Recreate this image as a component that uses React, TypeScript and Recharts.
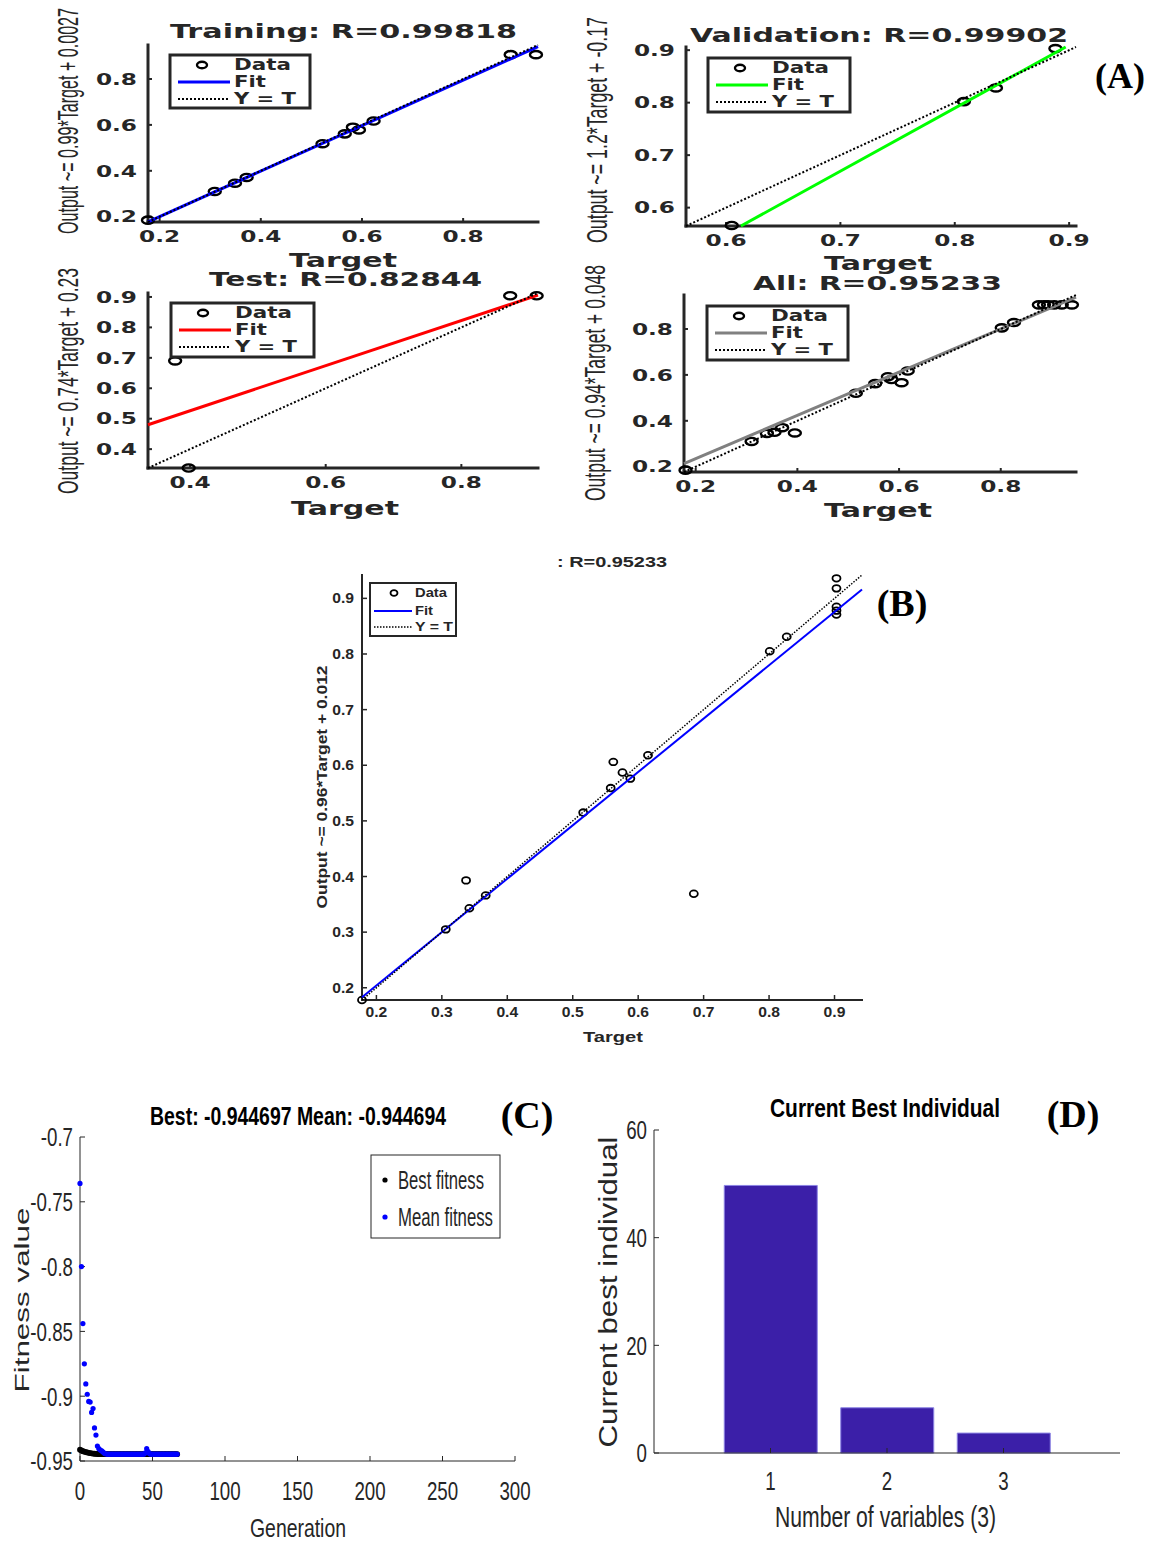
import React from 'react';
import { ScatterChart, Scatter, XAxis, YAxis, BarChart, Bar } from 'recharts';

const SANS = "'Liberation Sans', Arial, Helvetica, sans-serif";
const WIDE = "'DejaVu Sans', Verdana, sans-serif";
const SERIF = "'Liberation Serif', 'Times New Roman', serif";
const INK = '#262626';

// ---------- (A) regression panels: Target vs Output ----------
const trainTarget = [0.177, 0.309, 0.349, 0.372, 0.522, 0.566, 0.582, 0.594, 0.623, 0.894, 0.944];
const trainOutput = [0.185, 0.31, 0.346, 0.371, 0.518, 0.561, 0.59, 0.578, 0.617, 0.906, 0.906];
const trainFitT = [0.177, 0.948];
const trainFitO = [0.178, 0.941];
const trainLim = [0.177, 0.948];

const valTarget = [0.605, 0.808, 0.836, 0.888];
const valOutput = [0.566, 0.802, 0.828, 0.903];
const valFitT = [0.613, 0.897];
const valFitO = [0.565, 0.906];
const valLim = [0.565, 0.906];

const testTarget = [0.378, 0.398, 0.872, 0.911];
const testOutput = [0.69, 0.338, 0.904, 0.904];
const testFitT = [0.338, 0.913];
const testFitO = [0.48, 0.906];
const testLim = [0.338, 0.913];

const allTarget = [0.18, 0.31, 0.34, 0.355, 0.37, 0.395, 0.515, 0.553, 0.578, 0.585, 0.605, 0.617, 0.802, 0.826, 0.875, 0.885, 0.893, 0.905, 0.92, 0.94];
const allOutput = [0.185, 0.31, 0.345, 0.35, 0.37, 0.347, 0.52, 0.562, 0.592, 0.58, 0.566, 0.617, 0.805, 0.828, 0.905, 0.905, 0.905, 0.905, 0.905, 0.905];
const allFitT = [0.177, 0.948];
const allFitO = [0.214, 0.939];
const allLim = [0.177, 0.948];

const ticksA = [0.2, 0.4, 0.6, 0.8];
const ticksVal = [0.6, 0.7, 0.8, 0.9];
const ticksTestX = [0.4, 0.6, 0.8];
const ticksTestY = [0.4, 0.5, 0.6, 0.7, 0.8, 0.9];

// ---------- (B) overall regression ----------
const bTarget = [0.178, 0.306, 0.337, 0.342, 0.367, 0.516, 0.558, 0.562, 0.576, 0.588, 0.615, 0.685, 0.801, 0.827, 0.903, 0.903, 0.903, 0.903, 0.903];
const bOutput = [0.178, 0.305, 0.393, 0.343, 0.366, 0.515, 0.559, 0.606, 0.587, 0.576, 0.618, 0.369, 0.805, 0.831, 0.936, 0.918, 0.885, 0.878, 0.871];
const bFitT = [0.178, 0.942];
const bFitO = [0.183, 0.916];
const bLim = [0.178, 0.942];
const ticksB = [0.2, 0.3, 0.4, 0.5, 0.6, 0.7, 0.8, 0.9];

// ---------- (C) GA fitness per generation (gen 0..67) ----------
const meanFitness = [
  -0.7358, -0.8, -0.844, -0.875, -0.8905, -0.8985, -0.904, -0.9045, -0.9125, -0.9095,
  -0.9245, -0.93, -0.9385, -0.9405, -0.9415, -0.9422, -0.9432, -0.9442, -0.9446, -0.9447,
  -0.9447, -0.9447, -0.9447, -0.9447, -0.9447, -0.9447, -0.9447, -0.9447, -0.9447, -0.9447,
  -0.9447, -0.9447, -0.9447, -0.9447, -0.9447, -0.9447, -0.9447, -0.9447, -0.9447, -0.9447,
  -0.9447, -0.9447, -0.9447, -0.9447, -0.9447, -0.9438, -0.9405, -0.9428, -0.9444, -0.9447,
  -0.9447, -0.9447, -0.9447, -0.9447, -0.9447, -0.9447, -0.9447, -0.9447, -0.9447, -0.9447,
  -0.9447, -0.9447, -0.9447, -0.9447, -0.9447, -0.9447, -0.9447, -0.9447,
];
const bestFitness = [
  -0.9413, -0.9419, -0.9424, -0.9428, -0.9431, -0.9434, -0.9437, -0.9439, -0.9441, -0.9443,
  -0.9444, -0.9445, -0.9446, -0.9446, -0.9446, -0.9447, -0.9447, -0.9447, -0.9447, -0.9447,
  -0.9447, -0.9447, -0.9447, -0.9447, -0.9447, -0.9447, -0.9447, -0.9447, -0.9447, -0.9447,
  -0.9447, -0.9447, -0.9447, -0.9447, -0.9447, -0.9447, -0.9447, -0.9447, -0.9447, -0.9447,
  -0.9447, -0.9447, -0.9447, -0.9447, -0.9447, -0.9447, -0.9447, -0.9447, -0.9447, -0.9447,
  -0.9447, -0.9447, -0.9447, -0.9447, -0.9447, -0.9447, -0.9447, -0.9447, -0.9447, -0.9447,
  -0.9447, -0.9447, -0.9447, -0.9447, -0.9447, -0.9447, -0.9447, -0.9447,
];
const genTicks = [0, 50, 100, 150, 200, 250, 300];
const fitnessTicks = [-0.95, -0.9, -0.85, -0.8, -0.75, -0.7];

// ---------- (D) current best individual ----------
const varIndex = [1, 2, 3];
const bestIndividual = [49.7, 8.4, 3.7];
const indTicks = [0, 20, 40, 60];

const pts = (xs: number[], ys: number[]) => xs.map((x, i) => ({ x, y: ys[i] }));

// ---------- layout helpers ----------
type Box = { x: number; y: number; w: number; h: number };
const PL = 80, PT = 14, PR = 30, PB = 60, YW = 70, XH = 50;

function place(b: Box) {
  return {
    style: { position: 'absolute' as const, left: b.x - PL, top: b.y - PT },
    width: b.w + PL + PR,
    height: b.h + PT + PB,
    margin: { top: PT, right: PR, bottom: PB - XH, left: PL - YW },
  };
}

type TickFont = { family: string; size: number; weight: string; sx: number };

function tickOf(side: 'left' | 'bottom', f: TickFont) {
  return (p: any) => {
    const dy = side === 'left' ? f.size * 0.36 : f.size * 0.73;
    return (
      <g transform={`translate(${p.x},${p.y}) scale(${f.sx},1)`}>
        <text x={0} y={dy} textAnchor={side === 'left' ? 'end' : 'middle'} fontFamily={f.family}
          fontSize={f.size} fontWeight={f.weight} fill={INK}>
          {String(p.payload.value)}
        </text>
      </g>
    );
  };
}

const noDot = () => <g />;
const ring = (rx: number, ry: number, sw: number) => (p: any) =>
  <ellipse cx={p.cx} cy={p.cy} rx={rx} ry={ry} fill="none" stroke="#000" strokeWidth={sw} />;
const dot = (r: number, color: string) => (p: any) => <circle cx={p.cx} cy={p.cy} r={r} fill={color} />;

type Spec = {
  frame: number; tick: number; tickW: number; font: TickFont; gapL: number; gapB: number;
  marker: (p: any) => React.ReactElement; fitW: number; diagW: number; dash: string;
};

const specA: Spec = {
  frame: 3, tick: 4, tickW: 2, font: { family: WIDE, size: 16, weight: 'bold', sx: 1.45 },
  gapL: 11, gapB: 8, marker: ring(6, 3.6, 2.4), fitW: 3, diagW: 2, dash: '2 2',
};
const specB: Spec = {
  frame: 2, tick: 5, tickW: 1.5, font: { family: SANS, size: 14, weight: 'bold', sx: 1.12 },
  gapL: 8, gapB: 7, marker: ring(4, 3.3, 1.8), fitW: 2, diagW: 1.5, dash: '1.5 1.5',
};

function RegPanel(props: {
  box: Box; lim: number[]; xTicks: number[]; yTicks: number[];
  data: { x: number; y: number }[]; fit: { x: number; y: number }[]; diag: { x: number; y: number }[];
  fitColor: string; spec: Spec;
}) {
  const { box, lim, xTicks, yTicks, data, fit, diag, fitColor, spec } = props;
  const p = place(box);
  const axisLine = { stroke: INK, strokeWidth: spec.frame, strokeLinecap: 'square' as const };
  const tickLine = { stroke: INK, strokeWidth: spec.tickW };
  const dom = [lim[0], lim[1]];
  return (
    <div style={p.style}>
      <ScatterChart width={p.width} height={p.height} margin={p.margin}>
        <XAxis type="number" dataKey="x" domain={dom} ticks={xTicks} interval={0} height={XH}
          axisLine={axisLine} tickLine={tickLine} tickSize={-spec.tick} tickMargin={spec.tick + spec.gapB}
          tick={tickOf('bottom', spec.font)} />
        <XAxis xAxisId="top" orientation="top" type="number" dataKey="x" domain={dom} ticks={xTicks}
          interval={0} height={0} axisLine={axisLine} tickLine={tickLine} tickSize={-spec.tick} tick={false} />
        <YAxis type="number" dataKey="y" domain={dom} ticks={yTicks} interval={0} width={YW}
          axisLine={axisLine} tickLine={tickLine} tickSize={-spec.tick} tickMargin={spec.tick + spec.gapL}
          tick={tickOf('left', spec.font)} />
        <YAxis yAxisId="right" orientation="right" type="number" dataKey="y" domain={dom} ticks={yTicks}
          interval={0} width={0} axisLine={axisLine} tickLine={tickLine} tickSize={-spec.tick} tick={false} />
        <Scatter data={data} shape={spec.marker} isAnimationActive={false} />
        <Scatter data={fit} shape={noDot} line={{ stroke: fitColor, strokeWidth: spec.fitW }} isAnimationActive={false} />
        <Scatter data={diag} shape={noDot} line={{ stroke: '#000', strokeWidth: spec.diagW, strokeDasharray: spec.dash }}
          isAnimationActive={false} />
      </ScatterChart>
    </div>
  );
}

const fontGA: TickFont = { family: SANS, size: 26, weight: 'normal', sx: 0.72 };

function FitnessPanel() {
  const box = { x: 80, y: 1137, w: 435, h: 324 };
  const p = place(box);
  const best = bestFitness.map((v, g) => ({ gen: g, v }));
  const mean = meanFitness.map((v, g) => ({ gen: g, v }));
  const axisLine = { stroke: INK, strokeWidth: 1 };
  return (
    <div style={p.style}>
      <ScatterChart width={p.width} height={p.height} margin={p.margin}>
        <XAxis type="number" dataKey="gen" domain={[0, 300]} ticks={genTicks} interval={0} height={XH}
          axisLine={axisLine} tickLine={axisLine} tickSize={-5} tickMargin={5 + 20} tick={tickOf('bottom', fontGA)} />
        <YAxis type="number" dataKey="v" domain={[-0.95, -0.7]} ticks={fitnessTicks} interval={0} width={YW}
          axisLine={axisLine} tickLine={axisLine} tickSize={-5} tickMargin={5 + 7} tick={tickOf('left', fontGA)} />
        <Scatter data={best} shape={dot(2.9, '#000')} isAnimationActive={false} />
        <Scatter data={mean} shape={dot(2.6, '#0000ff')} isAnimationActive={false} />
      </ScatterChart>
    </div>
  );
}

function IndividualPanel() {
  const box = { x: 654, y: 1130, w: 466, h: 323 };
  const p = place(box);
  const data = varIndex.map((n, i) => ({ n, value: bestIndividual[i] }));
  const axisLine = { stroke: INK, strokeWidth: 1 };
  return (
    <div style={p.style}>
      <BarChart width={p.width} height={p.height} margin={p.margin} data={data}>
        <XAxis type="number" dataKey="n" domain={[0, 4]} ticks={varIndex} interval={0} height={XH}
          axisLine={axisLine} tickLine={axisLine} tickSize={-5} tickMargin={5 + 18} tick={tickOf('bottom', fontGA)} />
        <YAxis type="number" domain={[0, 60]} ticks={indTicks} interval={0} width={YW}
          axisLine={axisLine} tickLine={axisLine} tickSize={-5} tickMargin={5 + 7} tick={tickOf('left', fontGA)} />
        <Bar dataKey="value" fill="#3B1FA8" stroke="#8c84e4" strokeWidth={1} barSize={93} isAnimationActive={false} />
      </BarChart>
    </div>
  );
}

// ---------- overlay text ----------
function T(props: {
  x: number; y: number; text: string; size: number; family?: string; weight?: string;
  len?: number; sx?: number; anchor?: 'start' | 'middle' | 'end'; rotate?: number; fill?: string;
}) {
  const { x, y, text, size, family = SANS, weight = 'normal', len, sx = 1, anchor = 'middle', rotate, fill = '#000' } = props;
  const tf = `translate(${x},${y})${rotate ? ` rotate(${rotate})` : ''} scale(${sx},1)`;
  return (
    <g transform={tf}>
      <text x={0} y={0} fontSize={size} fontFamily={family} fontWeight={weight} textAnchor={anchor} fill={fill}
        textLength={len ? len / sx : undefined} lengthAdjust={len ? 'spacingAndGlyphs' : undefined}>
        {text}
      </text>
    </g>
  );
}

function RegLegend(props: { x: number; y: number; w: number; h: number; fitColor: string; big: boolean }) {
  const { x, y, w, h, fitColor, big } = props;
  const rows = big ? [10, 27, 44] : [10, 28, 44];
  const sym = big ? { c: 32, l0: 8, l1: 60, t: 64 } : { c: 24, l0: 4, l1: 42, t: 45 };
  const font = big ? { size: 15, family: WIDE, sx: 1.4 } : { size: 12, family: SANS, sx: 1.2 };
  const lens = big ? [57, 32, 62] : [32, 18, 38];
  const labels = ['Data', 'Fit', 'Y = T'];
  return (
    <g>
      <rect x={x} y={y} width={w} height={h} fill="#fff" stroke={INK} strokeWidth={big ? 3 : 2} />
      <ellipse cx={x + sym.c} cy={y + rows[0]} rx={big ? 5 : 3.5} ry={big ? 3.2 : 2.9} fill="none" stroke="#000"
        strokeWidth={big ? 2.4 : 1.8} />
      <line x1={x + sym.l0} x2={x + sym.l1} y1={y + rows[1]} y2={y + rows[1]} stroke={fitColor} strokeWidth={big ? 3 : 2} />
      <line x1={x + sym.l0} x2={x + sym.l1} y1={y + rows[2]} y2={y + rows[2]} stroke="#000" strokeWidth={big ? 2 : 1.5}
        strokeDasharray={big ? '2 2' : '1.5 1.5'} />
      {labels.map((s, i) => (
        <T key={s} x={x + sym.t} y={y + rows[i] + font.size * 0.36} text={s} size={font.size} family={font.family}
          weight="bold" anchor="start" len={lens[i]} sx={font.sx} fill={INK} />
      ))}
    </g>
  );
}

function Overlay() {
  const titleA = { size: 19, family: WIDE, weight: 'bold', sx: 1.5, fill: INK };
  const ylabA = { size: 30, sx: 0.55, rotate: -90, fill: INK };
  return (
    <svg width={1149} height={1545} style={{ position: 'absolute', left: 0, top: 0, pointerEvents: 'none' }}>
      {/* (A) titles and labels */}
      <T x={343.5} y={38} text="Training: R=0.99818" len={347} {...titleA} />
      <T x={879} y={42} text="Validation: R=0.99902" len={378} {...titleA} />
      <T x={345.5} y={286} text="Test: R=0.82844" len={273} {...titleA} />
      <T x={877.5} y={290} text="All: R=0.95233" len={249} {...titleA} />
      <T x={343} y={267} text="Target" len={108} {...titleA} />
      <T x={878} y={270} text="Target" len={108} {...titleA} />
      <T x={345} y={515} text="Target" len={108} {...titleA} />
      <T x={878} y={517} text="Target" len={108} {...titleA} />
      <T x={78} y={121} text="Output ~= 0.99*Target + 0.0027" len={226} {...ylabA} />
      <T x={607} y={130} text="Output ~= 1.2*Target + -0.17" len={226} {...ylabA} />
      <T x={78} y={381} text="Output ~= 0.74*Target + 0.23" len={226} {...ylabA} />
      <T x={605} y={383} text="Output ~= 0.94*Target + 0.048" len={236} {...ylabA} />
      <RegLegend x={170} y={55} w={140} h={53} fitColor="#0000ff" big />
      <RegLegend x={708} y={58} w={142} h={54} fitColor="#00ff00" big />
      <RegLegend x={171} y={303} w={143} h={54} fitColor="#ff0000" big />
      <RegLegend x={707} y={306} w={141} h={54} fitColor="#808080" big />
      <T x={1120} y={88} text="(A)" size={36} family={SERIF} weight="bold" />

      {/* (B) */}
      <T x={612} y={567} text=": R=0.95233" size={14} weight="bold" len={110} sx={1.4} fill={INK} />
      <T x={613} y={1042} text="Target" size={15} weight="bold" len={60} sx={1.3} fill={INK} />
      <T x={327} y={787} text="Output ~= 0.96*Target + 0.012" size={15} weight="bold" len={243} sx={1.1} rotate={-90} fill={INK} />
      <RegLegend x={370} y={583} w={86} h={53} fitColor="#0000ff" big={false} />
      <T x={902} y={616} text="(B)" size={38} family={SERIF} weight="bold" />

      {/* (C) */}
      <T x={298} y={1125} text="Best: -0.944697 Mean: -0.944694" size={26} weight="bold" len={296} sx={0.75} />
      <T x={527} y={1128} text="(C)" size={38} family={SERIF} weight="bold" />
      <T x={298} y={1537} text="Generation" size={26} len={96} sx={0.74} fill={INK} />
      <T x={29} y={1300} text="Fitness value" size={21} len={185} sx={1.45} rotate={-90} fill={INK} />
      <rect x={371} y={1155} width={129} height={83} fill="#fff" stroke={INK} strokeWidth={1} />
      <circle cx={385} cy={1180} r={2.6} fill="#000" />
      <circle cx={385} cy={1217} r={2.6} fill="#0000ff" />
      <T x={398} y={1189} text="Best fitness" size={25} len={86} sx={0.67} anchor="start" fill={INK} />
      <T x={398} y={1226} text="Mean fitness" size={25} len={95} sx={0.67} anchor="start" fill={INK} />

      {/* (D) */}
      <T x={885} y={1117} text="Current Best Individual" size={26} weight="bold" len={230} sx={0.78} />
      <T x={1073} y={1127} text="(D)" size={38} family={SERIF} weight="bold" />
      <T x={885.5} y={1527} text="Number of variables (3)" size={29} len={221} sx={0.73} fill={INK} />
      <T x={617} y={1292} text="Current best individual" size={25} len={311} sx={1.22} rotate={-90} fill={INK} />
    </svg>
  );
}

export default function App() {
  const diag = (l: number[]) => pts(l, l);
  return (
    <div style={{ position: 'absolute', left: 0, top: 0, width: 1149, height: 1545, background: '#fff', overflow: 'hidden' }}>
      <RegPanel box={{ x: 148, y: 45, w: 390, h: 177 }} lim={trainLim} xTicks={ticksA} yTicks={ticksA}
        data={pts(trainTarget, trainOutput)} fit={pts(trainFitT, trainFitO)} diag={diag(trainLim)} fitColor="#0000ff" spec={specA} />
      <RegPanel box={{ x: 686, y: 47, w: 390, h: 179 }} lim={valLim} xTicks={ticksVal} yTicks={ticksVal}
        data={pts(valTarget, valOutput)} fit={pts(valFitT, valFitO)} diag={diag(valLim)} fitColor="#00ff00" spec={specA} />
      <RegPanel box={{ x: 148, y: 293, w: 390, h: 175 }} lim={testLim} xTicks={ticksTestX} yTicks={ticksTestY}
        data={pts(testTarget, testOutput)} fit={pts(testFitT, testFitO)} diag={diag(testLim)} fitColor="#ff0000" spec={specA} />
      <RegPanel box={{ x: 684, y: 295, w: 392, h: 177 }} lim={allLim} xTicks={ticksA} yTicks={ticksA}
        data={pts(allTarget, allOutput)} fit={pts(allFitT, allFitO)} diag={diag(allLim)} fitColor="#808080" spec={specA} />
      <RegPanel box={{ x: 362, y: 575, w: 500, h: 425 }} lim={bLim} xTicks={ticksB} yTicks={ticksB}
        data={pts(bTarget, bOutput)} fit={pts(bFitT, bFitO)} diag={diag(bLim)} fitColor="#0000ff" spec={specB} />
      <FitnessPanel />
      <IndividualPanel />
      <Overlay />
    </div>
  );
}
